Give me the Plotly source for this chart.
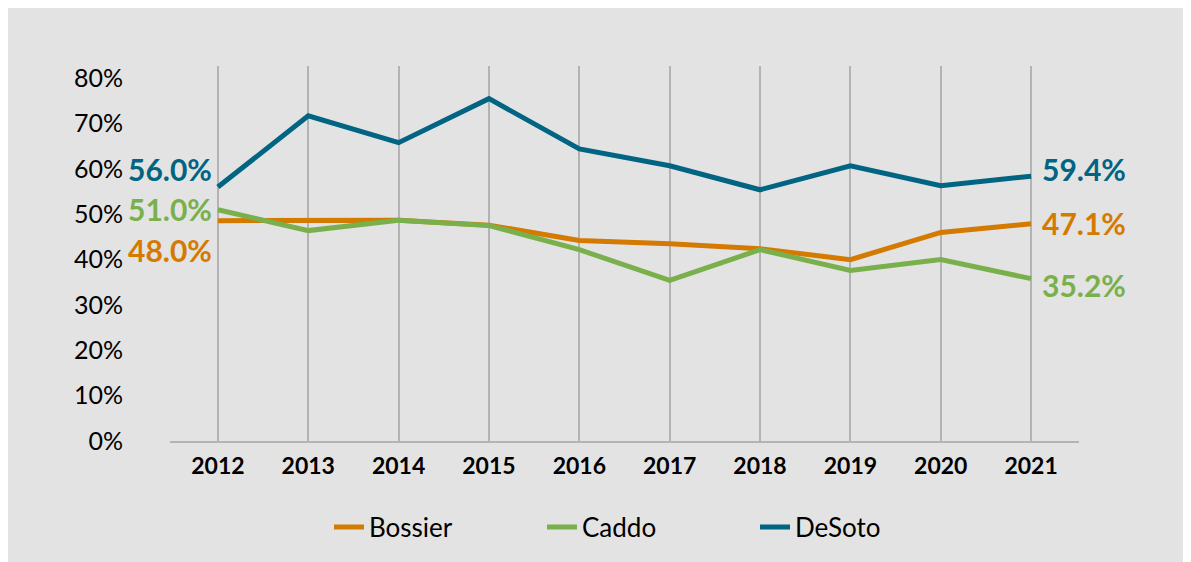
import plotly.graph_objects as go

years = [2012, 2013, 2014, 2015, 2016, 2017, 2018, 2019, 2020, 2021]
bossier = [48.6, 48.6, 48.7, 47.6, 44.2, 43.5, 42.4, 40.0, 46.0, 47.9]
caddo = [51.0, 46.4, 48.7, 47.5, 42.2, 35.4, 42.2, 37.6, 40.0, 35.8]
desoto = [56.0, 71.7, 65.8, 75.5, 64.4, 60.7, 55.4, 60.7, 56.3, 58.4]

series_names = ["Bossier", "Caddo", "DeSoto"]
series_colors = ["#d47a00", "#7ab04c", "#006482"]
start_labels = ["48.0%", "51.0%", "56.0%"]
end_labels = ["47.1%", "35.2%", "59.4%"]
start_shift = [-29, 1, 18]
end_shift = [1, -6, 7]

y_ticks = [0, 10, 20, 30, 40, 50, 60, 70, 80]
y_tick_text = [f"{v}%" for v in y_ticks]

FONT = "Lato"

fig = go.Figure()
for name, vals, col in zip(series_names, [bossier, caddo, desoto], series_colors):
    fig.add_trace(go.Scatter(x=years, y=vals, mode="lines", name=name,
                             line=dict(color=col, width=5), hoverinfo="skip"))

annos = []
for vals, col, sl, el, ss, es in zip([bossier, caddo, desoto], series_colors,
                                     start_labels, end_labels, start_shift, end_shift):
    annos.append(dict(x=years[0], y=vals[0], text=f"<b>{sl}</b>", showarrow=False,
                      xanchor="right", yanchor="middle", xshift=-4, yshift=ss,
                      font=dict(family=FONT, size=30, color=col)))
    annos.append(dict(x=years[-1], y=vals[-1], text=f"<b>{el}</b>", showarrow=False,
                      xanchor="right", yanchor="middle", xshift=97, yshift=es,
                      font=dict(family=FONT, size=30, color=col)))

fig.update_layout(
    width=1183, height=554,
    margin=dict(l=162, r=112, t=58, b=121),
    paper_bgcolor="#e3e3e3",
    plot_bgcolor="#e3e3e3",
    font=dict(family=FONT, color="black"),
    annotations=annos,
    showlegend=True,
    legend=dict(orientation="h", x=(321 - 162) / 909, xanchor="left",
                y=(433 - 519) / 375, yanchor="middle",
                font=dict(family=FONT, size=26, color="black"),
                entrywidth=168, bgcolor="rgba(0,0,0,0)", traceorder="normal"),
    xaxis=dict(range=[2011.47, 2021.53], tickmode="array", tickvals=years,
               ticktext=[f"<b>{y}</b>" for y in years],
               showgrid=True, gridcolor="#b3b3b3", gridwidth=2,
               showline=True, linecolor="#b3b3b3", linewidth=2,
               zeroline=False, ticks="", ticklabelstandoff=3,
               tickfont=dict(family=FONT, size=23, color="black")),
    yaxis=dict(range=[0, 82.7], tickmode="array", tickvals=y_ticks, ticktext=y_tick_text,
               showgrid=False, zeroline=False, showline=False, ticks="",
               ticklabelstandoff=46,
               tickfont=dict(family=FONT, size=25, color="black")),
)

fig.write_html("out.html")
